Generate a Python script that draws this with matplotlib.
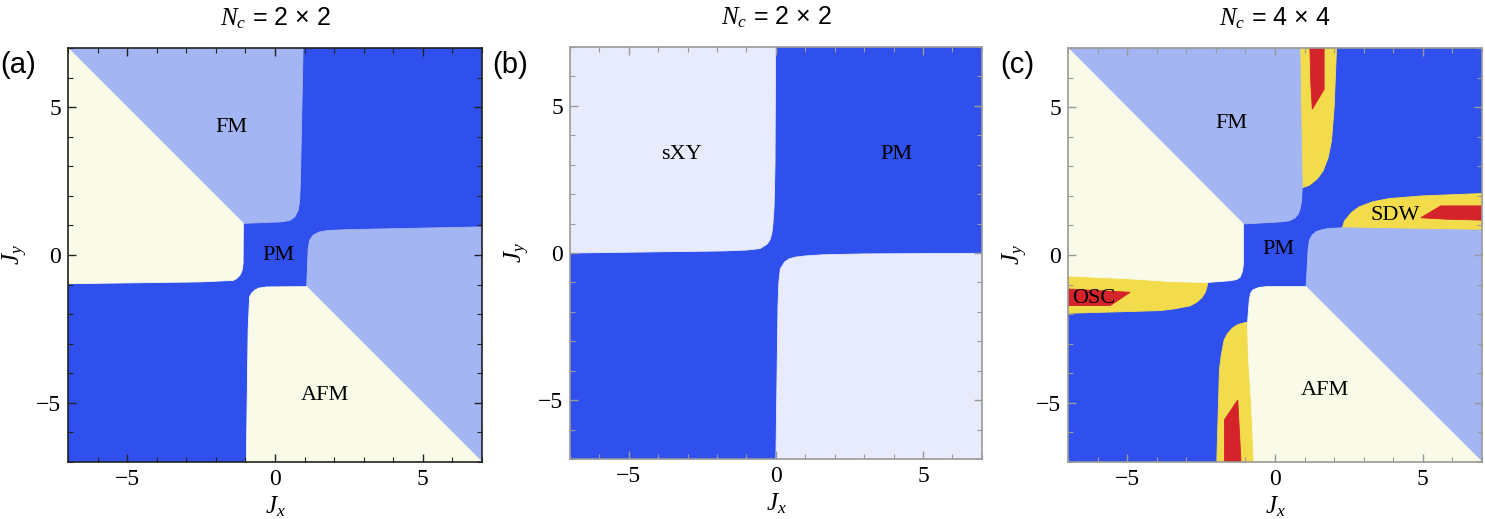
import matplotlib
matplotlib.use("Agg")
import matplotlib.pyplot as plt
from matplotlib.ticker import MultipleLocator

plt.rcParams['font.family'] = 'Liberation Serif'
plt.rcParams['mathtext.fontset'] = 'custom'
plt.rcParams['mathtext.rm'] = 'Liberation Sans'
plt.rcParams['mathtext.it'] = 'Liberation Serif:italic'

# colours of the phases
PM_BLUE = '#3050ed'
FM_BLUE = '#a3b5f2'
CREAM = '#f9fae8'
SXY = '#e8ebfb'
YELLOW = '#f3dc4b'
RED = '#d4232b'

# --- panel (a): Nc = 2x2, phase boundaries (Jx, Jy)
fm_a = [(-7, 7), (-1.07, 1.07), (0.2, 1.12), (0.5, 1.17), (0.67, 1.29),
        (0.78, 1.5), (0.83, 1.8), (0.86, 2.5), (0.9, 4.5), (0.95, 7)]
cream_a = [(-7, 7), (-1.07, 1.07), (-1.08, -0.29), (-1.12, -0.55),
           (-1.19, -0.69), (-1.3, -0.8), (-1.42, -0.86), (-2.55, -0.91),
           (-7, -0.97)]

# --- panel (b): Nc = 2x2, sXY phase
sxy_b = [(-7, 7), (-0.01, 7), (-0.03, 3.0), (-0.06, 1.6), (-0.1, 1.0),
         (-0.14, 0.66), (-0.2, 0.45), (-0.3, 0.3), (-0.54, 0.15),
         (-1.0, 0.1), (-1.8, 0.07), (-7, 0.0)]

# --- panel (c): Nc = 4x4
fm_c = [(-7, 7), (-1.07, 1.05), (0.2, 1.12), (0.5, 1.16), (0.68, 1.26),
        (0.79, 1.39), (0.86, 1.6), (0.9, 1.83), (0.92, 2.28), (0.88, 4.5),
        (0.84, 7)]
cream_c = [(-7, 7), (-1.07, 1.05), (-1.07, -0.3), (-1.1, -0.55),
           (-1.18, -0.75), (-1.3, -0.83), (-1.52, -0.87), (-2.3, -0.93),
           (-3.5, -0.9), (-5, -0.8), (-7, -0.71)]
strip_top_c = [(0.75, 7), (2.08, 7), (2.0, 5.0), (1.91, 3.86), (1.8, 3.3),
               (1.63, 2.85), (1.45, 2.6), (1.35, 2.51), (1.15, 2.35),
               (0.93, 2.28), (0.75, 2.3)]
red_top_c = [(1.18, 7), (1.66, 7), (1.66, 5.6), (1.26, 4.93), (1.21, 5.8)]
strip_osc_c = [(-7, -0.6), (-2.3, -0.85), (-2.28, -1.0), (-2.35, -1.25),
               (-2.47, -1.44), (-2.65, -1.6), (-2.87, -1.72), (-3.4, -1.82),
               (-3.88, -1.88), (-7, -1.97)]
red_osc_c = [(-7, -1.15), (-4.9, -1.26), (-5.57, -1.71), (-7, -1.71)]

# phase names and where they are written
labels_a = [("FM", -1.47, 4.32), ("PM", 0.11, 0.0), ("AFM", 1.69, -4.76)]
labels_b = [("sXY", -3.2, 3.36), ("PM", 4.09, 3.36)]
labels_c = [("FM", -1.46, 4.45), ("PM", 0.11, 0.2), ("AFM", 1.69, -4.58),
            ("OSC", -6.13, -1.46), ("SDW", 4.05, 1.33)]

titles = [r'$N_c$ = 2 × 2', r'$N_c$ = 2 × 2', r'$N_c$ = 4 × 4']
panel_tags = ['(a)', '(b)', '(c)']


def swap(poly):
    # the diagrams are symmetric under Jx <-> Jy
    return [(y, x) for x, y in poly]


def region(ax, poly, color):
    xs = [p[0] for p in poly]
    ys = [p[1] for p in poly]
    ax.fill(xs, ys, color=color, lw=0.6, ec=color)


def frame(ax, color):
    ax.set_xlim(-7, 7)
    ax.set_ylim(-7, 7)
    ax.set_facecolor(PM_BLUE)
    ax.xaxis.set_major_locator(MultipleLocator(5))
    ax.yaxis.set_major_locator(MultipleLocator(5))
    ax.xaxis.set_minor_locator(MultipleLocator(1))
    ax.yaxis.set_minor_locator(MultipleLocator(1))
    ax.set_xticks([-5, 0, 5], ['\u22125', '0', '5'], family='Liberation Serif')
    ax.set_yticks([-5, 0, 5], ['\u22125', '0', '5'], family='Liberation Serif')
    ax.tick_params(which='both', direction='in', top=True, right=True,
                   color=color, labelsize=17, pad=5)
    ax.tick_params(which='major', length=6, width=1)
    ax.tick_params(which='minor', length=3.5, width=0.8)
    for s in ax.spines.values():
        s.set_color(color)
        s.set_linewidth(1.2)
    ax.set_xlabel(r'$J_x$', fontsize=18, labelpad=3)
    ax.set_ylabel(r'$J_y$', fontsize=18, labelpad=4)


fig = plt.figure(figsize=(14.85, 5.19), dpi=100)
ax_a = fig.add_axes([0.0458, 0.1098, 0.2788, 0.7977])
ax_b = fig.add_axes([0.3838, 0.1156, 0.2774, 0.7938])
ax_c = fig.add_axes([0.7192, 0.1098, 0.2788, 0.7977])

# (a)
region(ax_a, fm_a, FM_BLUE)
region(ax_a, swap(fm_a), FM_BLUE)
region(ax_a, cream_a, CREAM)
region(ax_a, swap(cream_a), CREAM)
frame(ax_a, '#222222')

# (b)
region(ax_b, sxy_b, SXY)
region(ax_b, swap(sxy_b), SXY)
frame(ax_b, '#9a9a9a')

# (c)
for strip in [strip_top_c, strip_osc_c]:
    region(ax_c, strip, YELLOW)
    region(ax_c, swap(strip), YELLOW)
for red in [red_top_c, red_osc_c]:
    region(ax_c, red, RED)
    region(ax_c, swap(red), RED)
region(ax_c, fm_c, FM_BLUE)
region(ax_c, swap(fm_c), FM_BLUE)
region(ax_c, cream_c, CREAM)
region(ax_c, swap(cream_c), CREAM)
frame(ax_c, '#9a9a9a')

for ax, labels in zip([ax_a, ax_b, ax_c], [labels_a, labels_b, labels_c]):
    for name, x, y in labels:
        ax.text(x, y, name, fontsize=16, ha='center', va='center')

for ax, t in zip([ax_a, ax_b, ax_c], titles):
    ax.set_title(t, fontsize=18, pad=16, family='Liberation Sans')

for x, tag in zip([0.0, 492 / 1485, 1000 / 1485], panel_tags):
    fig.text(x, 1 - 65 / 519, tag, fontsize=21, family='Liberation Sans',
             ha='left', va='center')

fig.savefig('out.png', dpi=100)
